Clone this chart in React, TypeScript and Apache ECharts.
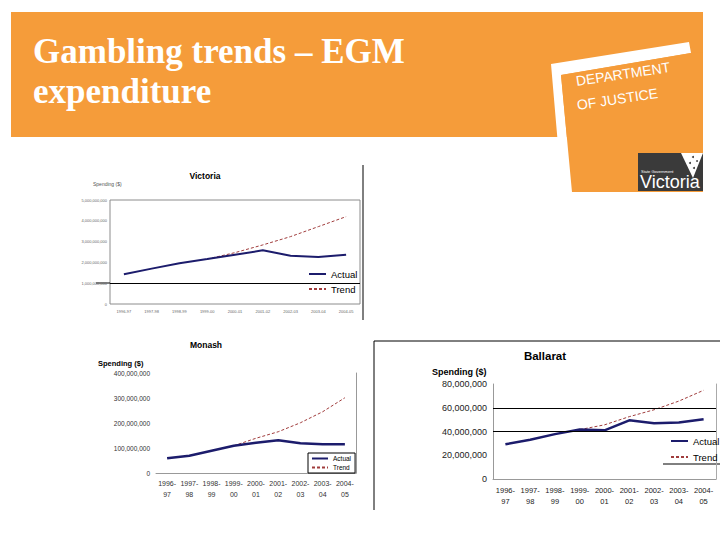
import React, { useEffect, useRef } from "react";
import * as echarts from "echarts";

const categories = ["1996-97", "1997-98", "1998-99", "1999-00", "2000-01", "2001-02", "2002-03", "2003-04", "2004-05"];

const victoriaActual = [1.43e9, 1.7e9, 1.96e9, 2.16e9, 2.37e9, 2.58e9, 2.32e9, 2.26e9, 2.37e9];
const victoriaTrend = [null, null, null, 2.16e9, 2.47e9, 2.84e9, 3.24e9, 3.72e9, 4.2e9];

const monashActual = [59e6, 69e6, 89e6, 109e6, 121e6, 131e6, 119e6, 115e6, 115e6];
const monashTrend = [null, null, null, 109e6, 139e6, 165e6, 201e6, 245e6, 301e6];

const ballaratActual = [29.2e6, 33e6, 37.8e6, 41.6e6, 41e6, 49.4e6, 46.9e6, 47.5e6, 50.3e6];
const ballaratTrend = [null, null, null, 41.6e6, 45.6e6, 52.5e6, 58.3e6, 65.6e6, 74.7e6];

const NAVY = "#1c1c6c";
const RED = "#a03c3c";
const ORANGE = "#F59C3A";
const FONT = "Liberation Sans";

const fmt = (v: number) => Math.round(v).toString().replace(/\B(?=(\d{3})+(?!\d))/g, ",");
const twoLine = (c: string) => c.replace("-", "-\n");

export default function App() {
  const ref = useRef<HTMLDivElement>(null);
  useEffect(() => {
    if (!ref.current) return;
    const chart = echarts.init(ref.current, undefined, { renderer: "svg" });
    const actualSeries = (x: number, y: number, data: number[], width: number, markVals: number[]) => ({
      name: "Actual",
      type: "line",
      xAxisIndex: x,
      yAxisIndex: y,
      data,
      symbol: "none",
      z: 3,
      lineStyle: { color: NAVY, width },
      itemStyle: { color: NAVY },
      markLine: markVals.length
        ? {
            silent: true,
            symbol: "none",
            label: { show: false },
            lineStyle: { color: "#000", width: 1, type: "solid" },
            data: markVals.map((v) => ({ yAxis: v })),
          }
        : undefined,
    });
    const trendSeries = (x: number, y: number, data: (number | null)[]) => ({
      name: "Trend",
      type: "line",
      xAxisIndex: x,
      yAxisIndex: y,
      data,
      symbol: "none",
      z: 2,
      lineStyle: { color: RED, width: 1, type: [3, 2] },
      itemStyle: { color: RED },
    });
    const legendBase = {
      orient: "vertical",
      itemStyle: { opacity: 0 },
      data: ["Actual", "Trend"],
    };

    const option: any = {
      animation: false,
      backgroundColor: "#fff",
      textStyle: { fontFamily: FONT },
      grid: [
        { left: 110, top: 200, width: 250, height: 104, show: true, borderColor: "#8c8c8c", borderWidth: 1 },
        { left: 156, top: 373, width: 200, height: 100 },
        { left: 493, top: 384, width: 223, height: 95 },
      ],
      xAxis: [
        {
          gridIndex: 0, type: "category", data: categories,
          axisLine: { show: false }, axisTick: { show: false },
          axisLabel: { fontSize: 4, color: "#666", margin: 5, interval: 0 },
        },
        {
          gridIndex: 1, type: "category", data: categories,
          axisLine: { show: true, lineStyle: { color: "#999" } }, axisTick: { show: false },
          axisLabel: { fontSize: 7, color: "#333", margin: 5, lineHeight: 11, interval: 0, formatter: twoLine },
        },
        {
          gridIndex: 2, type: "category", data: categories,
          axisLine: { show: false }, axisTick: { show: false },
          axisLabel: { fontSize: 7.5, color: "#222", margin: 6, lineHeight: 11, interval: 0, formatter: twoLine },
        },
        {
          gridIndex: 2, type: "category", data: categories, position: "top",
          axisLine: { show: true, lineStyle: { color: "#999" } }, axisTick: { show: false }, axisLabel: { show: false },
        },
      ],
      yAxis: [
        {
          gridIndex: 0, type: "value", min: 0, max: 5e9, interval: 1e9,
          axisLine: { show: false }, axisTick: { show: false }, splitLine: { show: false },
          axisLabel: { fontSize: 4, color: "#666", margin: 3, formatter: fmt },
        },
        {
          gridIndex: 1, type: "value", min: 0, max: 4e8, interval: 1e8,
          axisLine: { show: false }, axisTick: { show: false }, splitLine: { show: false },
          axisLabel: { fontSize: 6.5, color: "#333", margin: 6, formatter: fmt },
        },
        {
          gridIndex: 2, type: "value", min: 0, max: 8e7, interval: 2e7,
          axisLine: { show: true, lineStyle: { color: "#999" } }, axisTick: { show: false }, splitLine: { show: false },
          axisLabel: { fontSize: 9, color: "#222", margin: 6, formatter: fmt },
        },
        {
          gridIndex: 1, type: "value", position: "right", min: 0, max: 1,
          axisLine: { show: true, lineStyle: { color: "#999" } }, axisTick: { show: false }, splitLine: { show: false }, axisLabel: { show: false },
        },
        {
          gridIndex: 2, type: "value", position: "right", min: 0, max: 1,
          axisLine: { show: true, lineStyle: { color: "#aaa" } }, axisTick: { show: false }, splitLine: { show: false }, axisLabel: { show: false },
        },
      ],
      legend: [
        {
          ...legendBase,
          left: 303, top: 264, itemWidth: 17, itemHeight: 9, itemGap: 5,
          textStyle: { fontSize: 9.5, color: "#000", fontFamily: FONT },
        },
        {
          ...legendBase,
          left: 308, top: 453, itemWidth: 16, itemHeight: 7, itemGap: 2, padding: [2, 4, 2, 3],
          borderColor: "#000", borderWidth: 1, backgroundColor: "#fff",
          textStyle: { fontSize: 6.5, color: "#000", fontFamily: FONT },
        },
        {
          ...legendBase,
          left: 665, top: 431, itemWidth: 17, itemHeight: 10, itemGap: 6,
          textStyle: { fontSize: 9.5, color: "#000", fontFamily: FONT },
        },
      ],
      series: [
        trendSeries(0, 0, victoriaTrend),
        actualSeries(0, 0, victoriaActual, 2, [1e9]),
        trendSeries(1, 1, monashTrend),
        actualSeries(1, 1, monashActual, 2.5, []),
        trendSeries(2, 2, ballaratTrend),
        actualSeries(2, 2, ballaratActual, 2.5, [4e7, 6e7]),
      ],
      graphic: [
        { type: "rect", shape: { x: 11, y: 12, width: 692, height: 125 }, style: { fill: ORANGE }, z: 0 },
        {
          type: "polygon",
          shape: { points: [[551, 64], [689, 42], [691, 53], [561, 75], [572, 192], [562, 192]] },
          style: { fill: "#fff" }, z: 1,
        },
        {
          type: "polygon",
          shape: { points: [[561, 75], [691, 53], [703, 52], [703, 192], [572, 192]] },
          style: { fill: ORANGE }, z: 1,
        },
        {
          type: "text", x: 577, y: 88, rotation: 0.15, z: 2,
          style: { x: 0, y: 0, text: "DEPARTMENT", fill: "#fff", fontSize: 14, fontFamily: FONT, verticalAlign: "bottom" },
        },
        {
          type: "text", x: 578, y: 112, rotation: 0.15, z: 2,
          style: { x: 0, y: 0, text: "OF JUSTICE", fill: "#fff", fontSize: 14, fontFamily: FONT, verticalAlign: "bottom" },
        },
        { type: "rect", shape: { x: 638, y: 153, width: 65, height: 38 }, style: { fill: "#3a3a3a" }, z: 2 },
        { type: "polygon", shape: { points: [[681, 153], [703, 153], [693, 178]] }, style: { fill: "#fff" }, z: 3 },
        { type: "circle", shape: { cx: 693, cy: 157, r: 1 }, style: { fill: "#3a3a3a" }, z: 4 },
        { type: "circle", shape: { cx: 697, cy: 161, r: 0.9 }, style: { fill: "#3a3a3a" }, z: 4 },
        { type: "circle", shape: { cx: 690, cy: 163, r: 1 }, style: { fill: "#3a3a3a" }, z: 4 },
        { type: "circle", shape: { cx: 694, cy: 168, r: 1 }, style: { fill: "#3a3a3a" }, z: 4 },
        {
          type: "text", z: 4,
          style: { x: 641, y: 171, text: "State Government", fill: "#fff", fontSize: 4, fontFamily: FONT, verticalAlign: "middle" },
        },
        {
          type: "text", z: 4,
          style: { x: 640, y: 191, text: "Victoria", fill: "#fff", fontSize: 18, fontFamily: FONT, verticalAlign: "bottom" },
        },
        {
          type: "text", z: 5,
          style: { x: 33, y: 51, text: "Gambling trends – EGM", fill: "#fff", fontSize: 35, fontWeight: "bold", fontFamily: "Liberation Serif", verticalAlign: "middle" },
        },
        {
          type: "text", z: 5,
          style: { x: 33, y: 91.5, text: "expenditure", fill: "#fff", fontSize: 35, fontWeight: "bold", fontFamily: "Liberation Serif", verticalAlign: "middle" },
        },
        // chart titles and axis names
        { type: "text", style: { x: 205, y: 176, text: "Victoria", fill: "#000", fontSize: 8.5, fontWeight: "bold", fontFamily: FONT, align: "center", verticalAlign: "middle" } },
        { type: "text", style: { x: 93, y: 184, text: "Spending ($)", fill: "#555", fontSize: 5, fontFamily: FONT, verticalAlign: "middle" } },
        { type: "text", style: { x: 206, y: 345, text: "Monash", fill: "#000", fontSize: 8.5, fontWeight: "bold", fontFamily: FONT, align: "center", verticalAlign: "middle" } },
        { type: "text", style: { x: 98, y: 363, text: "Spending ($)", fill: "#000", fontSize: 7.5, fontWeight: "bold", fontFamily: FONT, verticalAlign: "middle" } },
        { type: "text", style: { x: 545, y: 356, text: "Ballarat", fill: "#000", fontSize: 11.5, fontWeight: "bold", fontFamily: FONT, align: "center", verticalAlign: "middle" } },
        { type: "text", style: { x: 432, y: 372, text: "Spending ($)", fill: "#000", fontSize: 9, fontWeight: "bold", fontFamily: FONT, verticalAlign: "middle" } },
        // chart frame lines
        { type: "line", shape: { x1: 96, y1: 283, x2: 110, y2: 283 }, style: { stroke: "#000", lineWidth: 1 } },
        { type: "line", shape: { x1: 363, y1: 165, x2: 363, y2: 320 }, style: { stroke: "#000", lineWidth: 1 } },
        { type: "line", shape: { x1: 374, y1: 341, x2: 720, y2: 341 }, style: { stroke: "#000", lineWidth: 1 } },
        { type: "line", shape: { x1: 374, y1: 341, x2: 374, y2: 510 }, style: { stroke: "#000", lineWidth: 1 } },
        { type: "line", shape: { x1: 663, y1: 464, x2: 720, y2: 464 }, style: { stroke: "#000", lineWidth: 1 } },
      ],
    };
    chart.setOption(option);
    return () => chart.dispose();
  }, []);
  return <div ref={ref} style={{ position: "absolute", left: 0, top: 0, width: 720, height: 540 }} />;
}
